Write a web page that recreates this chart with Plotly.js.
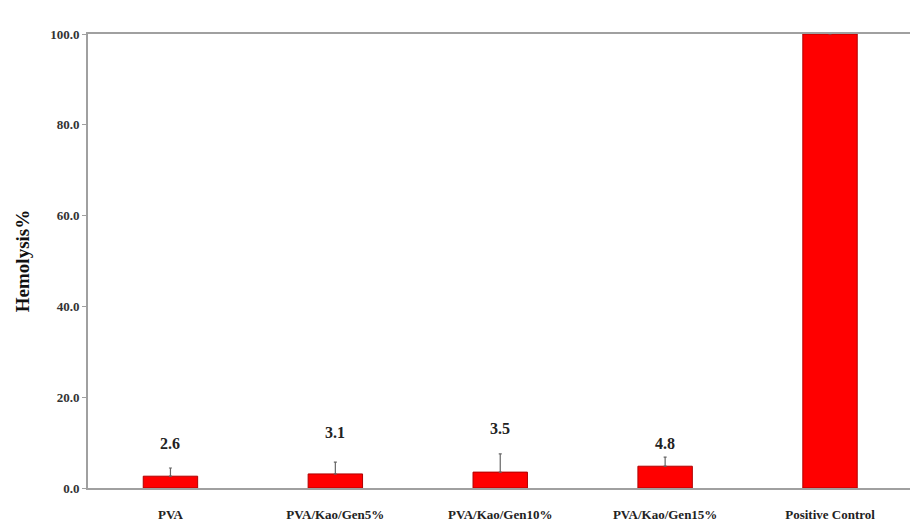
<!DOCTYPE html>
<html>
<head>
<meta charset="utf-8">
<script src="https://cdn.plot.ly/plotly-3.0.1.min.js"></script>
<style>html,body{margin:0;padding:0;background:#fff;}#chart{width:910px;height:521px;}</style>
</head>
<body>
<div id="chart"></div>
<script>
const categories = ["PVA", "PVA/Kao/Gen5%", "PVA/Kao/Gen10%", "PVA/Kao/Gen15%", "Positive Control"];
const hemolysis = [2.6, 3.1, 3.5, 4.8, 100];
const errorUp = [1.8, 2.6, 4.0, 2.0, 0];
const valueLabels = ["2.6", "3.1", "3.5", "4.8", null];
const labelHeights = [9.9, 12.3, 13.2, 9.9, null];

const serif = "'Liberation Serif', 'Times New Roman', serif";

const trace = {
  type: "bar",
  x: categories,
  y: hemolysis,
  width: 0.33,
  marker: {color: "#ff0000", line: {color: "#b00000", width: 1}},
  error_y: {type: "data", symmetric: false, array: errorUp, arrayminus: hemolysis.map(() => 0),
            color: "#666", thickness: 1.2, width: 1.5},
  hoverinfo: "none"
};

const annotations = [];
categories.forEach((c, i) => {
  if (valueLabels[i] !== null) {
    annotations.push({x: c, y: labelHeights[i], xref: "x", yref: "y", text: valueLabels[i],
      showarrow: false, font: {family: serif, size: 16, color: "#222", weight: "bold"}});
  }
});

const layout = {
  width: 910, height: 521,
  margin: {l: 88, r: 0, t: 34, b: 33},
  paper_bgcolor: "#fff", plot_bgcolor: "#fff",
  showlegend: false,
  bargap: 0,
  xaxis: {
    type: "category", range: [-0.5, 4.485],
    showline: true, linecolor: "#a0a0a0", linewidth: 2, mirror: true,
    ticks: "", ticklabelstandoff: 13,
    tickfont: {family: serif, size: 13, color: "#222", weight: "bold"},
    showgrid: false, zeroline: false, fixedrange: true
  },
  yaxis: {
    range: [0, 100], tickvals: [0, 20, 40, 60, 80, 100], tickformat: ".1f",
    showline: true, linecolor: "#a0a0a0", linewidth: 2,
    ticks: "outside", ticklen: 4, tickcolor: "#a0a0a0", tickwidth: 1,
    tickfont: {family: serif, size: 13, color: "#333", weight: "bold"},
    showgrid: false, zeroline: false,
    title: {text: "Hemolysis%", font: {family: serif, size: 19, color: "#111", weight: "bold"}, standoff: 16}
  },
  annotations: annotations
};

Plotly.newPlot("chart", [trace], layout, {staticPlot: true, displayModeBar: false});
</script>
</body>
</html>
